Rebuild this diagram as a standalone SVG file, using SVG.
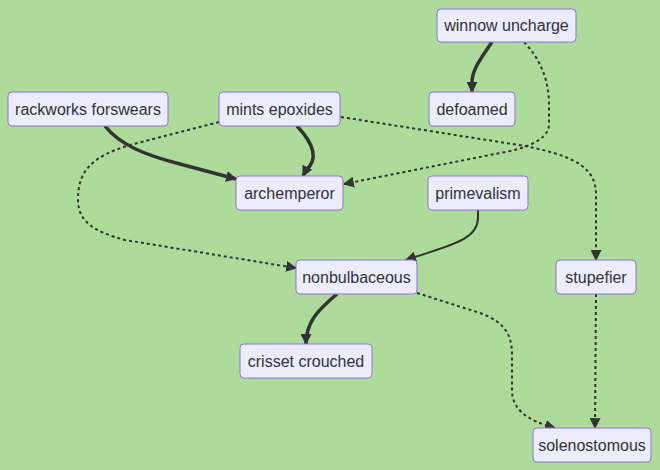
<svg xmlns="http://www.w3.org/2000/svg" width="660" height="470" viewBox="0 0 660 470">
<defs>
<marker id="arr" viewBox="0 0 10 10" refX="9" refY="5" markerWidth="11" markerHeight="11" markerUnits="userSpaceOnUse" orient="auto">
<path d="M0,0 L10,5 L0,10 z" fill="#333333" stroke="none"/>
</marker>
<style>
.node rect{fill:#ECECFF;stroke:#9370DB;stroke-width:1}
.node text{font-family:"Liberation Sans",Arial,sans-serif;font-size:16px;fill:#333333;text-anchor:middle;dominant-baseline:central}
.e{fill:none;stroke:#333333;marker-end:url(#arr)}
.n{stroke-width:2}
.t{stroke-width:3.5}
.d{stroke-width:2;stroke-dasharray:3 3}
</style>
</defs>
<rect x="0" y="0" width="660" height="470" fill="#ADDB9A"/>
<g id="connectors">
<path class="e t" d="M492,42 C481,58 472,70 472,82 L472,92"/>
<path class="e d" d="M524,42 Q549,68 549,105 L549,124 Q549,142 510,151 L344,184"/>
<path class="e t" d="M105,126 C120,145 145,155 180,164 L236,179"/>
<path class="e t" d="M297,126 C315,145 318,160 306,170 L303,176"/>
<path class="e d" d="M219,122 L130,145 C90,157 78,172 78,200 C78,222 95,232 125,240 L296,268"/>
<path class="e d" d="M341,117 L525,146 C580,157 596,170 596,195 L596,260"/>
<path class="e n" d="M478,210 L478,218 C478,240 450,245 406,260"/>
<path class="e t" d="M337,294 C318,310 306,322 306,344"/>
<path class="e d" d="M417,293 L480,313 C505,322 512,335 512,355 L512,390 C512,408 525,420 555,428"/>
<path class="e d" d="M596,294 L595,428"/>
</g>
<g id="winnow-uncharge" class="node"><rect x="437" y="9" width="139" height="33" rx="4"/><text x="506.5" y="25.5">winnow uncharge</text></g>
<g id="rackworks-forswears" class="node"><rect x="8" y="92" width="160" height="34" rx="4"/><text x="88" y="109">rackworks forswears</text></g>
<g id="mints-epoxides" class="node"><rect x="219" y="92" width="121" height="34" rx="4"/><text x="279.5" y="109">mints epoxides</text></g>
<g id="defoamed" class="node"><rect x="429" y="92" width="86" height="34" rx="4"/><text x="472" y="109">defoamed</text></g>
<g id="archemperor" class="node"><rect x="236" y="176" width="107" height="34" rx="4"/><text x="289.5" y="193">archemperor</text></g>
<g id="primevalism" class="node"><rect x="428" y="176" width="100" height="34" rx="4"/><text x="478" y="193">primevalism</text></g>
<g id="nonbulbaceous" class="node"><rect x="296" y="260" width="121" height="34" rx="4"/><text x="356.5" y="277">nonbulbaceous</text></g>
<g id="stupefier" class="node"><rect x="556" y="260" width="80" height="34" rx="4"/><text x="596" y="277">stupefier</text></g>
<g id="crisset-crouched" class="node"><rect x="240" y="344" width="132" height="34" rx="4"/><text x="306" y="361">crisset crouched</text></g>
<g id="solenostomous" class="node"><rect x="533" y="428" width="118" height="34" rx="4"/><text x="592" y="445">solenostomous</text></g>
</svg>
